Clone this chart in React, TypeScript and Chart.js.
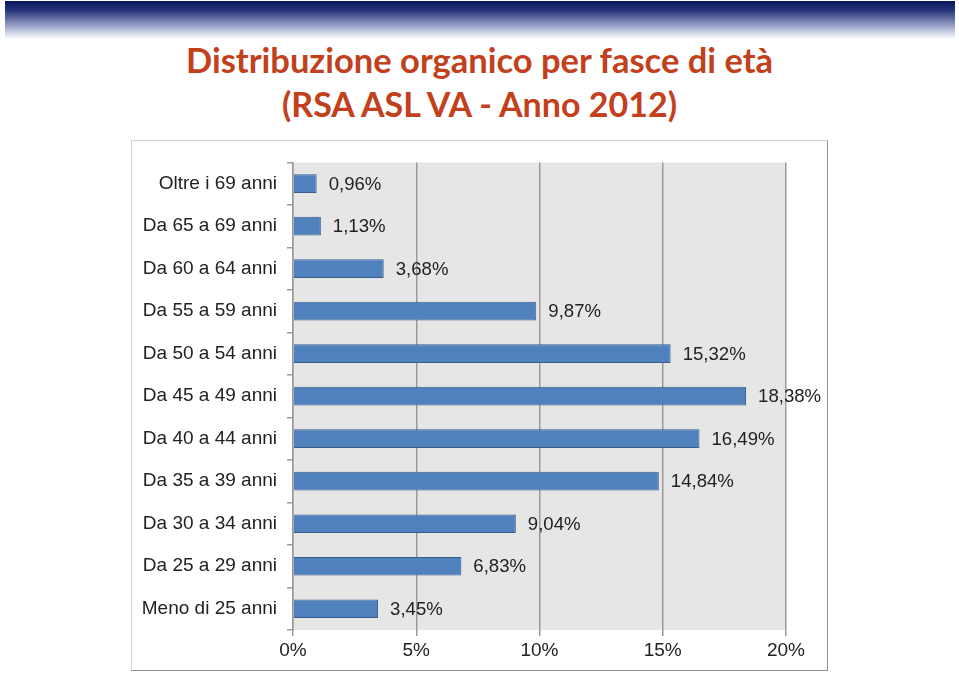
import React, { useEffect, useRef } from "react";
import { Chart, registerables } from "chart.js";

Chart.register(...registerables);

const categories: string[] = [
  "Oltre i 69 anni",
  "Da 65 a 69 anni",
  "Da 60 a 64 anni",
  "Da 55 a 59 anni",
  "Da 50 a 54 anni",
  "Da 45 a 49 anni",
  "Da 40 a 44 anni",
  "Da 35 a 39 anni",
  "Da 30 a 34 anni",
  "Da 25 a 29 anni",
  "Meno di 25 anni",
];

const percentages: number[] = [0.96, 1.13, 3.68, 9.87, 15.32, 18.38, 16.49, 14.84, 9.04, 6.83, 3.45];

const axisMin = 0;
const axisMax = 20;
const axisStep = 5;

const titleLine1 = "Distribuzione organico per fasce di età";
const titleLine2 = "(RSA ASL VA - Anno 2012)";

const fmt = (v: number) => v.toFixed(2).replace(".", ",") + "%";

export default function App() {
  const ref = useRef<HTMLCanvasElement | null>(null);

  useEffect(() => {
    if (!ref.current) return;
    const textColor = "#222222";
    const family = "'Liberation Sans', Arial, sans-serif";
    const font = { family, size: 19 };

    const bgPlugin = {
      id: "plotBg",
      beforeDraw(chart: any) {
        const { ctx, chartArea } = chart;
        ctx.save();
        ctx.fillStyle = "#e6e6e6";
        ctx.fillRect(chartArea.left, chartArea.top, chartArea.right - chartArea.left, chartArea.bottom - chartArea.top);
        ctx.restore();
      },
    };

    const labelPlugin = {
      id: "valueLabels",
      afterDatasetsDraw(chart: any) {
        const { ctx } = chart;
        const meta = chart.getDatasetMeta(0);
        ctx.save();
        ctx.fillStyle = textColor;
        ctx.font = `18.6px ${family}`;
        ctx.textAlign = "left";
        ctx.textBaseline = "middle";
        meta.data.forEach((bar: any, i: number) => {
          ctx.fillText(fmt(percentages[i]), bar.x + 12, bar.y + 1);
        });
        ctx.restore();
      },
    };

    const chart = new Chart(ref.current, {
      type: "bar",
      data: {
        labels: categories,
        datasets: [
          {
            data: percentages,
            backgroundColor: "#4f81bd",
            borderColor: "#385d8a",
            borderWidth: 1,
            barPercentage: 0.44,
            categoryPercentage: 1,
          },
        ],
      },
      options: {
        indexAxis: "y",
        animation: false,
        responsive: false,
        devicePixelRatio: 1,
        layout: { padding: { top: 17, right: 41, left: 0, bottom: 0 } },
        plugins: { legend: { display: false }, tooltip: { enabled: false }, title: { display: false } },
        scales: {
          x: {
            min: axisMin,
            max: axisMax,
            ticks: {
              stepSize: axisStep,
              callback: (v: any) => v + "%",
              color: textColor,
              font,
              padding: 3,
              maxRotation: 0,
            },
            grid: { color: "#9a9a9a", lineWidth: 1.5, tickLength: 6, drawTicks: true },
            border: { display: false },
            afterFit: (s: any) => {
              s.height = 40;
            },
          },
          y: {
            ticks: { color: textColor, font, padding: 10 },
            grid: { drawOnChartArea: false, tickLength: 6, color: "#9a9a9a", offset: true, lineWidth: 1.5 },
            border: { display: true, color: "#9a9a9a", width: 1.5 },
            afterFit: (s: any) => {
              s.width = 161;
            },
          },
        },
      },
      plugins: [bgPlugin, labelPlugin],
    } as any);

    return () => chart.destroy();
  }, []);

  const titleStyle: React.CSSProperties = {
    position: "absolute",
    left: 0,
    width: 959,
    textAlign: "center",
    color: "#c2401c",
    fontFamily: "Lato, 'Open Sans', sans-serif",
    fontWeight: 700,
    fontSize: 34.5,
    lineHeight: "40px",
    whiteSpace: "nowrap",
    margin: 0,
  };

  return (
    <div style={{ position: "absolute", left: 0, top: 0, width: 959, height: 675, background: "#fff", overflow: "hidden" }}>
      <div
        style={{
          position: "absolute",
          left: 5,
          top: 1,
          width: 950,
          height: 38,
          background: "linear-gradient(to bottom, #0a185a 0%, #26357a 25%, #8a93c0 60%, #ffffff 100%)",
        }}
      />
      <div style={{ ...titleStyle, top: 40 }}>{titleLine1}</div>
      <div style={{ ...titleStyle, top: 84, fontSize: 34 }}>{titleLine2}</div>
      <div
        style={{
          position: "absolute",
          left: 131,
          top: 140,
          width: 697,
          height: 531,
          boxSizing: "border-box",
          borderTop: "1px solid #cfcfcf",
          borderLeft: "1px solid #cfcfcf",
          borderRight: "1px solid #8f8f8f",
          borderBottom: "1px solid #8f8f8f",
          background: "#fff",
        }}
      >
        <canvas ref={ref} width={695} height={529} style={{ position: "absolute", left: 0, top: 0, width: 695, height: 529 }} />
      </div>
    </div>
  );
}
